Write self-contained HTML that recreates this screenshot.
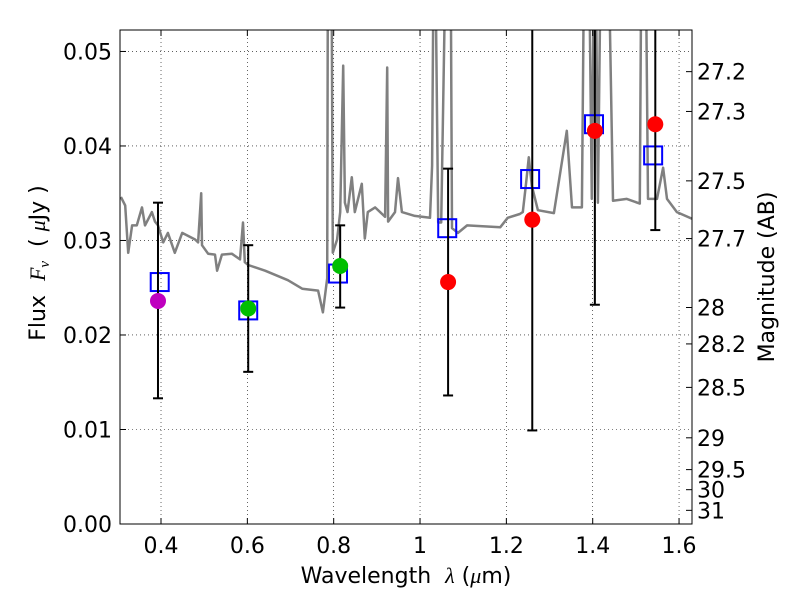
<!DOCTYPE html>
<html><head><meta charset="utf-8"><style>body{margin:0;background:#fff}svg{display:block;font-family:"DejaVu Sans","Liberation Sans",sans-serif}</style></head>
<body>
<svg id="c" width="800" height="600"></svg>
<script>
const specWave=[0.307,0.317,0.324,0.333,0.344,0.356,0.363,0.379,0.386,0.393,0.405,0.416,0.432,0.449,0.479,0.486,0.493,0.495,0.509,0.525,0.530,0.541,0.564,0.583,0.590,0.594,0.602,0.641,0.694,0.727,0.764,0.775,0.785,0.787,0.794,0.798,0.808,0.815,0.822,0.826,0.832,0.842,0.849,0.865,0.872,0.879,0.896,0.919,0.924,0.926,0.942,0.949,0.958,0.988,1.023,1.028,1.033,1.042,1.049,1.063,1.070,1.074,1.088,1.109,1.186,1.203,1.231,1.238,1.245,1.252,1.259,1.273,1.310,1.340,1.352,1.375,1.382,1.389,1.398,1.405,1.412,1.421,1.433,1.447,1.479,1.509,1.514,1.521,1.528,1.549,1.563,1.572,1.595,1.630];
const specFlux=[0.0346,0.0337,0.0287,0.0316,0.0316,0.0335,0.0316,0.0330,0.0320,0.0316,0.0298,0.0308,0.0287,0.0308,0.0301,0.0298,0.0350,0.0295,0.0286,0.0285,0.0268,0.0285,0.0286,0.0280,0.0319,0.0277,0.0274,0.0268,0.0258,0.0249,0.0247,0.0224,0.0260,0.07,0.07,0.0287,0.0301,0.0330,0.0485,0.0340,0.0330,0.0367,0.0330,0.0360,0.0302,0.0330,0.0335,0.0325,0.0483,0.0320,0.0330,0.0366,0.0330,0.0326,0.0324,0.0379,0.07,0.0319,0.0319,0.07,0.07,0.0313,0.0308,0.0316,0.0314,0.0324,0.0328,0.0330,0.0358,0.0388,0.0358,0.0332,0.0329,0.0416,0.0335,0.0335,0.07,0.07,0.0344,0.07,0.0340,0.07,0.07,0.0342,0.0344,0.0339,0.07,0.07,0.0344,0.0344,0.0377,0.0344,0.0330,0.0323];
const obsWave=[0.393,0.602,0.815,1.065,1.260,1.405,1.545];
const obsFlux=[0.0236,0.0228,0.0273,0.0256,0.0322,0.0416,0.0423];
const obsLo=[0.0133,0.0161,0.0229,0.0136,0.0099,0.0232,0.0311];
const obsHi=[0.0340,0.0295,0.0316,0.0376,0.0700,0.0700,0.0700];
const obsColor=['#bf00bf','#00bf00','#00bf00','#ff0000','#ff0000','#ff0000','#ff0000'];
const modWave=[0.397,0.602,0.810,1.063,1.255,1.403,1.540];
const modFlux=[0.0256,0.0226,0.0265,0.0313,0.0365,0.0423,0.0390];
const xTicks=[0.4,0.6,0.8,1.0,1.2,1.4,1.6];
const xLabels=['0.4','0.6','0.8','1','1.2','1.4','1.6'];
const yTicks=[0,0.01,0.02,0.03,0.04,0.05];
const yLabels=['0.00','0.01','0.02','0.03','0.04','0.05'];
const magTicks=[27.2,27.3,27.5,27.7,28,28.2,28.5,29,29.5,30,31];
const magLabels=['27.2','27.3','27.5','27.7','28','28.2','28.5','29','29.5','30','31'];

const L=120,R=692,T=30,B=524,X0=0.305,X1=1.630,Y0=0,Y1=0.05227;
const sx=v=>L+(v-X0)/(X1-X0)*(R-L);
const sy=v=>B-(v-Y0)/(Y1-Y0)*(B-T);
const svg=document.getElementById('c');const NS='http://www.w3.org/2000/svg';
function mk(t,a,p){const e=document.createElementNS(NS,t);for(const k in a)e.setAttribute(k,a[k]);(p||svg).appendChild(e);return e;}
const defs=mk('defs',{});const cp=mk('clipPath',{id:'clip'},defs);mk('rect',{x:L,y:T,width:R-L,height:B-T},cp);
const grid=mk('g',{});


xTicks.forEach(v=>mk('line',{x1:sx(v),x2:sx(v),y1:T,y2:B,stroke:'#000','stroke-width':0.6,'stroke-dasharray':'1,3'},grid));
yTicks.forEach(v=>mk('line',{x1:L,x2:R,y1:sy(v),y2:sy(v),stroke:'#000','stroke-width':0.6,'stroke-dasharray':'1,3'},grid));
const g=mk('g',{'clip-path':'url(#clip)'});
const spec=mk('path',{d:specWave.map((w,i)=>(i?'L':'M')+sx(w).toFixed(1)+','+sy(specFlux[i]).toFixed(1)).join(''),fill:'none',stroke:'#808080','stroke-width':2.5,'stroke-linejoin':'round'},g);


modWave.forEach((w,i)=>{const r=mk('rect',{x:sx(w)-9,y:sy(modFlux[i])-9,width:18,height:18,fill:'none',stroke:'#0000ff','stroke-width':2},g);

});
obsWave.forEach((w,i)=>{const x=sx(w);const e=mk('g',{},g);


mk('line',{x1:x,x2:x,y1:sy(obsLo[i]),y2:sy(obsHi[i]),stroke:'#000','stroke-width':2},e);
[obsLo[i],obsHi[i]].forEach(v=>mk('line',{x1:x-5,x2:x+5,y1:sy(v),y2:sy(v),stroke:'#000','stroke-width':2},e));
const c=mk('circle',{cx:x,cy:sy(obsFlux[i]),r:8,fill:obsColor[i]},g);

});
mk('rect',{x:L,y:T,width:R-L,height:B-T,fill:'none',stroke:'#000','stroke-width':1});
const ax=mk('g',{'font-size':22,fill:'#000'});


xTicks.forEach((v,i)=>{const x=sx(v);mk('line',{x1:x,x2:x,y1:B,y2:B-6,stroke:'#000'},ax);mk('line',{x1:x,x2:x,y1:T,y2:T+6,stroke:'#000'},ax);
const t=mk('text',{x:x,y:B+29,'text-anchor':'middle'},ax);t.textContent=xLabels[i];});
yTicks.forEach((v,i)=>{const y=sy(v);mk('line',{x1:L,x2:L+6,y1:y,y2:y,stroke:'#000'},ax);
const t=mk('text',{x:L-8,y:y+8,'text-anchor':'end'},ax);t.textContent=yLabels[i];});
magTicks.forEach((m,i)=>{const y=sy(Math.pow(10,(23.9-m)/2.5));mk('line',{x1:R,x2:R-6,y1:y,y2:y,stroke:'#000'},ax);
const t=mk('text',{x:R+5,y:y+8},ax);t.textContent=magLabels[i];});
const xt=mk('text',{x:406,y:583,'text-anchor':'middle'},ax);xt.innerHTML='Wavelength &#160;<tspan font-style="italic" font-family="Liberation Serif,serif">λ</tspan> (<tspan font-style="italic" font-family="Liberation Serif,serif">μ</tspan>m)';

const yt=mk('text',{x:0,y:0,'text-anchor':'middle',transform:'translate(45,263) rotate(-90)'},ax);yt.innerHTML='Flux &#160;<tspan font-style="italic" font-family="Liberation Serif,serif">F<tspan font-size="15" dy="4">ν</tspan></tspan><tspan dy="-4"> &#160;( </tspan><tspan font-style="italic" font-family="Liberation Serif,serif">μ</tspan>Jy )';

const rt=mk('text',{x:0,y:0,'text-anchor':'middle',transform:'translate(774,277) rotate(-90)'},ax);rt.textContent='Magnitude (AB)';

</script>
</body></html>
